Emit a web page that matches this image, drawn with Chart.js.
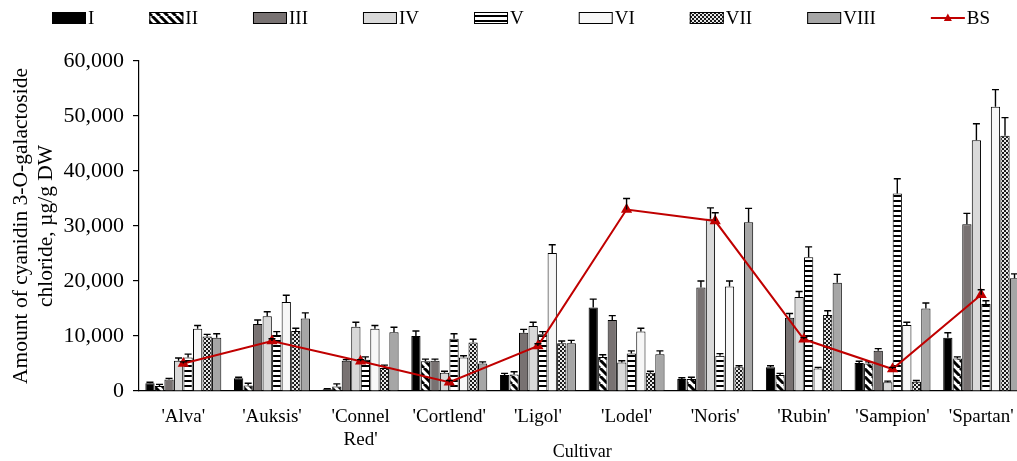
<!DOCTYPE html>
<html>
<head>
<meta charset="utf-8">
<script src="https://cdn.jsdelivr.net/npm/chart.js@4/dist/chart.umd.min.js"></script>
<style>
  html, body { margin: 0; padding: 0; background: #fff; width: 1017px; height: 461px; overflow: hidden; }
  canvas { display: block; }
</style>
</head>
<body>
<canvas id="chart" width="1032" height="461"></canvas>
<script>
// Cyanidin 3-O-galactoside chloride content (µg/g DW) per cultivar
const categories = ["'Alva'", "'Auksis'", ["'Connel", "Red'"], "'Cortlend'", "'Ligol'", "'Lodel'", "'Noris'", "'Rubin'", "'Sampion'", "'Spartan'"];

const valuesI    = [1400, 2300, 300, 10000, 2900, 15200, 2200, 4300, 5100, 9700];
const valuesII   = [900, 1000, 800, 5400, 3000, 6200, 2200, 2900, 5000, 5900];
const valuesIII  = [2100, 12200, 5500, 5500, 10600, 12900, 18800, 13300, 7300, 30300];
const valuesIV   = [5500, 13600, 11700, 3300, 11800, 5200, 31300, 17100, 1600, 45600];
const valuesV    = [6100, 10200, 5700, 9500, 10300, 6800, 6400, 24300, 35900, 15800];
const valuesVI   = [11300, 16200, 11300, 6100, 25100, 10800, 19000, 4100, 12000, 51700];
const valuesVII  = [9900, 10900, 4200, 8800, 8700, 3300, 4300, 13800, 1700, 46400];
const valuesVIII = [9700, 13200, 10700, 5000, 8700, 6700, 30700, 19700, 15000, 20500];
const valuesBS   = [5000, 9100, 5400, 1600, 8200, 33000, 30900, 9400, 4000, 17500];

// standard deviations (upper whiskers)
const errI    = [200, 200, 100, 900, 300, 1500, 200, 300, 300, 900];
const errII   = [300, 400, 500, 400, 500, 400, 300, 300, 300, 300];
const errIII  = [200, 700, 200, 300, 600, 800, 1200, 800, 400, 2000];
const errIV   = [500, 800, 800, 300, 700, 300, 2000, 1000, 200, 3000];
const errV    = [600, 600, 500, 900, 500, 500, 400, 1900, 2700, 600];
const errVI   = [600, 1200, 600, 300, 1500, 600, 1000, 200, 500, 3100];
const errVII  = [400, 500, 500, 600, 400, 300, 300, 800, 200, 3300];
const errVIII = [700, 1000, 900, 300, 500, 600, 2500, 1500, 1000, 800];
const errBS   = [300, 400, 300, 300, 400, 2000, 1500, 300, 300, 900];

const yTicks = [0, 10000, 20000, 30000, 40000, 50000, 60000];

const FONT = "'Liberation Serif', 'Times New Roman', serif";

// fill patterns
function makePattern(w, h, paint) {
  const c = document.createElement('canvas');
  c.width = w; c.height = h;
  const g = c.getContext('2d');
  paint(g, w, h);
  return g.createPattern(c, 'repeat');
}
const diagonalFill = makePattern(8, 8, (g, w, h) => {
  g.fillStyle = '#fff'; g.fillRect(0, 0, w, h);
  g.strokeStyle = '#000'; g.lineWidth = 3;
  for (const o of [-8, 0, 8]) { g.beginPath(); g.moveTo(o, 0); g.lineTo(o + 8, 8); g.stroke(); }
});
const stripeFill = makePattern(4, 5, (g, w, h) => {
  g.fillStyle = '#fff'; g.fillRect(0, 0, w, h);
  g.fillStyle = '#000'; g.fillRect(0, 0, w, 2);
});
const checkFill = makePattern(4, 4, (g, w, h) => {
  g.fillStyle = '#1a1a1a'; g.fillRect(0, 0, w, h);
  g.fillStyle = '#e8e8e8'; g.fillRect(0, 0, 2, 2); g.fillRect(2, 2, 2, 2);
});

function barSet(label, data, errors, fill) {
  return {
    type: 'bar', label, data, errors,
    backgroundColor: fill, borderColor: '#000', borderWidth: 1,
    categoryPercentage: 0.86, barPercentage: 0.97, order: 1
  };
}

const datasets = [
  barSet('I', valuesI, errI, '#000000'),
  barSet('II', valuesII, errII, diagonalFill),
  barSet('III', valuesIII, errIII, '#787272'),
  barSet('IV', valuesIV, errIV, '#d9d9d9'),
  barSet('V', valuesV, errV, stripeFill),
  barSet('VI', valuesVI, errVI, '#f7f7f7'),
  barSet('VII', valuesVII, errVII, checkFill),
  barSet('VIII', valuesVIII, errVIII, '#a6a6a6'),
  {
    type: 'line', label: 'BS', data: valuesBS, errors: errBS,
    borderColor: '#c00000', backgroundColor: '#c00000', borderWidth: 2,
    pointStyle: 'triangle', pointRadius: 4.5, pointHoverRadius: 4.5,
    tension: 0, order: 0
  }
];

// upper whiskers, drawn right after each dataset
const errorBars = {
  id: 'errorBars',
  afterDatasetDraw(chart, args) {
    const ds = chart.data.datasets[args.index];
    if (!ds.errors) return;
    const y = chart.scales.y, ctx = chart.ctx;
    ctx.save();
    ctx.strokeStyle = '#000';
    ctx.lineWidth = 1.4;
    args.meta.data.forEach((el, i) => {
      const v = ds.data[i], e = ds.errors[i];
      const y0 = y.getPixelForValue(v), y1 = y.getPixelForValue(v + e);
      ctx.beginPath();
      ctx.moveTo(el.x, y0); ctx.lineTo(el.x, y1);
      ctx.moveTo(el.x - 3.5, y1); ctx.lineTo(el.x + 3.5, y1);
      ctx.stroke();
    });
    ctx.restore();
  }
};

// single-row legend across the top
const topLegend = {
  id: 'topLegend',
  afterDraw(chart) {
    const ctx = chart.ctx;
    const boxW = 34, boxH = 12, gap = 2, itemGap = 55, cy = 18;
    let x = 52;
    ctx.save();
    ctx.font = '19px ' + FONT;
    ctx.textBaseline = 'middle';
    ctx.fillStyle = '#000';
    chart.data.datasets.forEach(ds => {
      if (ds.type === 'line') {
        ctx.strokeStyle = ds.borderColor; ctx.lineWidth = 2;
        ctx.beginPath(); ctx.moveTo(x, cy); ctx.lineTo(x + boxW, cy); ctx.stroke();
        const cx = x + boxW / 2;
        ctx.fillStyle = ds.backgroundColor;
        ctx.beginPath(); ctx.moveTo(cx, cy - 4.5); ctx.lineTo(cx + 4, cy + 3); ctx.lineTo(cx - 4, cy + 3); ctx.closePath(); ctx.fill();
      } else {
        ctx.fillStyle = ds.backgroundColor;
        ctx.fillRect(x, cy - boxH / 2, boxW, boxH);
        ctx.strokeStyle = '#000'; ctx.lineWidth = 1;
        ctx.strokeRect(x + 0.5, cy - boxH / 2 + 0.5, boxW - 1, boxH - 1);
      }
      ctx.fillStyle = '#000';
      ctx.fillText(ds.label, x + boxW + gap, cy + 1);
      x += boxW + gap + ctx.measureText(ds.label).width + itemGap;
    });
    ctx.restore();
  }
};

new Chart(document.getElementById('chart'), {
  data: { labels: categories, datasets },
  options: {
    responsive: false,
    animation: false,
    devicePixelRatio: 1,
    layout: { padding: { top: 61, right: 2, left: 0, bottom: 0 } },
    plugins: { legend: { display: false }, tooltip: { enabled: false } },
    scales: {
      x: {
        grid: { display: false, drawTicks: false },
        border: { display: true, color: '#000', width: 1.2 },
        ticks: { color: '#000', font: { family: FONT, size: 19, lineHeight: 1.2 }, padding: 15, maxRotation: 0, autoSkip: false },
        title: { display: true, text: 'Cultivar', color: '#000', font: { family: FONT, size: 18 }, padding: { top: 0, bottom: -2 } },
        afterFit(s) { s.height = 70; }
      },
      y: {
        min: 0, max: 60000,
        afterBuildTicks(s) { s.ticks = yTicks.map(v => ({ value: v })); },
        grid: { drawOnChartArea: false, drawTicks: true, tickLength: 6, color: '#000', lineWidth: 1.2 },
        border: { display: true, color: '#000', width: 1.2 },
        ticks: { color: '#000', font: { family: FONT, size: 22 }, padding: 9, callback: v => v.toLocaleString('en-US') },
        title: {
          display: true,
          text: ['Amount of cyanidin 3-O-galactoside', 'chloride, \u00b5g/g DW'],
          color: '#000', font: { family: FONT, size: 21.5 }, padding: { top: 8, bottom: 0 }
        },
        afterFit(s) { s.width = 139; }
      }
    }
  },
  plugins: [errorBars, topLegend]
});
</script>
</body>
</html>
